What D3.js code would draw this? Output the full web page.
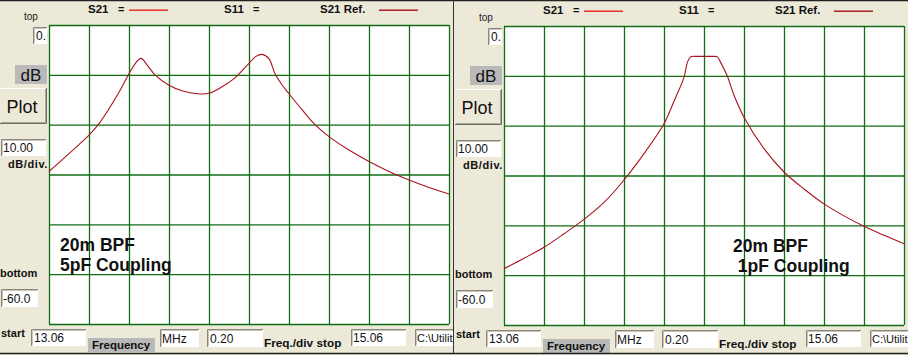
<!DOCTYPE html>
<html lang="en">
<head>
  <meta charset="UTF-8" />
  <title>20m BPF - S21</title>
  <script src="https://d3js.org/d3.v7.min.js"></script>
  <style>
    html, body {
      margin: 0;
      padding: 0;
      background: #ece9d8;
      overflow: hidden;
    }
    svg {
      display: block;
      font-family: "Liberation Sans", Arial, sans-serif;
    }
    .lbl {
      font-weight: bold;
      font-size: 11px;
      fill: #111;
    }
    .inp {
      font-size: 12px;
      fill: #111;
    }
  </style>
</head>
<body>
  <div id="chart"></div>
  <script>
    // sweep settings (same for both panels)
    const freqStart = 13.06;
    const freqStop = 15.06;
    const freqDiv = 0.20;
    const dbTop = 0;
    const dbBottom = -60;
    const dbDiv = 10;

    // left panel: 5pF coupling (MHz, dB)
    const leftFreq = [13.06, 13.11, 13.16, 13.21, 13.26, 13.31, 13.36, 13.41, 13.46, 13.49, 13.52,
      13.55, 13.59, 13.66, 13.725, 13.805, 13.86, 13.925, 13.99, 14.02, 14.06, 14.095, 14.125,
      14.16, 14.19, 14.225, 14.26, 14.325, 14.39, 14.46, 14.56, 14.66, 14.76, 14.86, 14.96, 15.06];
    const leftDb = [-29.4, -27.6, -25.8, -24.0, -22.1, -19.8, -16.8, -13.5, -9.8, -7.8, -6.7,
      -8.0, -10.0, -12.1, -13.2, -13.8, -13.7, -12.4, -10.6, -9.4, -7.7, -6.3, -5.9,
      -6.8, -9.8, -12.0, -13.8, -17.0, -20.0, -22.4, -25.1, -27.4, -29.4, -31.1, -32.6, -33.9];

    // right panel: 1pF coupling (MHz, dB)
    const rightFreq = [13.06, 13.16, 13.26, 13.36, 13.46, 13.56, 13.66, 13.76, 13.86, 13.91,
      13.96, 13.977, 13.993, 14.025, 14.06, 14.10, 14.127, 14.143, 14.177, 14.21, 14.26,
      14.36, 14.46, 14.56, 14.66, 14.76, 14.86, 14.96, 15.06];
    const rightDb = [-48.7, -46.6, -44.4, -41.7, -38.8, -35.4, -30.9, -25.6, -19.6, -15.1,
      -10.3, -7.3, -6.2, -6.1, -6.1, -6.1, -6.2, -7.3, -10.1, -13.9, -18.3,
      -24.6, -29.3, -32.7, -35.7, -38.1, -40.2, -42.0, -43.7];

    const panels = [
      { dx: 0, dy: 0, freq: leftFreq, db: leftDb, note: ["20m BPF", "5pF Coupling"], noteX: 60 },
      { dx: 455, dy: 1, freq: rightFreq, db: rightDb, note: ["20m BPF", " 1pF Coupling"], noteX: 278 }
    ];

    const W = 908, H = 355;
    const plot = { x: 49, y: 25, w: 400, h: 299 };

    const svg = d3.select("#chart").append("svg")
      .attr("width", W)
      .attr("height", H);

    svg.append("rect").attr("width", W).attr("height", H).attr("fill", "#ece9d8");

    // sunken white edit box
    function inputBox(g, x, y, w, h, txt, tx, fs) {
      g.append("rect").attr("x", x).attr("y", y).attr("width", w).attr("height", h).attr("fill", "#fff");
      g.append("path")
        .attr("d", `M${x + 0.5},${y + h}V${y + 0.5}H${x + w}`)
        .attr("fill", "none").attr("stroke", "#8a877c");
      g.append("path")
        .attr("d", `M${x + 1.5},${y + h - 1}V${y + 1.5}H${x + w - 1}`)
        .attr("fill", "none").attr("stroke", "#c8c5b8");
      g.append("text").attr("class", "inp")
        .attr("x", x + (tx || 3)).attr("y", y + h - 4)
        .style("font-size", fs ? fs + "px" : null)
        .text(txt);
    }

    function drawPanel(p, i) {
      const clipId = "clip" + i;
      svg.append("clipPath").attr("id", clipId)
        .append("rect")
        .attr("x", p.dx).attr("y", 0)
        .attr("width", i === 0 ? 453 : W - p.dx).attr("height", H);

      const g = svg.append("g")
        .attr("clip-path", `url(#${clipId})`)
        .append("g")
        .attr("transform", `translate(${p.dx},${p.dy})`);

      // legend header
      g.append("text").attr("class", "lbl").attr("x", 88).attr("y", 13).style("font-size", "11.5px").text("S21");
      g.append("text").attr("class", "lbl").attr("x", 118).attr("y", 13).text("=");
      g.append("rect").attr("x", 129).attr("y", 9.5).attr("width", 39).attr("height", 1.4).attr("fill", "#e8231f");
      g.append("text").attr("class", "lbl").attr("x", 224).attr("y", 13).style("font-size", "11.5px").text("S11");
      g.append("text").attr("class", "lbl").attr("x", 253).attr("y", 13).text("=");
      g.append("text").attr("class", "lbl").attr("x", 320).attr("y", 13).style("font-size", "11.5px").text("S21 Ref.");
      g.append("rect").attr("x", 379).attr("y", 9.5).attr("width", 39).attr("height", 1.4).attr("fill", "#a31515");

      // left controls
      g.append("text").attr("x", 24).attr("y", 20).style("font-size", "10px").attr("fill", "#222").text("top");
      inputBox(g, 33, 27, 14, 17, "0.", 3);

      g.append("rect").attr("x", 15).attr("y", 65).attr("width", 32).attr("height", 19).attr("fill", "#b9b9b9");
      g.append("text").attr("x", 31).attr("y", 81).attr("text-anchor", "middle")
        .style("font-size", "17px").attr("fill", "#111").text("dB");

      g.append("rect").attr("x", 0).attr("y", 88).attr("width", 47).attr("height", 36).attr("fill", "#ece9d8");
      g.append("path").attr("d", "M0,123.5H46.5V88").attr("fill", "none").attr("stroke", "#6f6d64");
      g.append("path").attr("d", "M1,122.5H45.5V89").attr("fill", "none").attr("stroke", "#a9a699");
      g.append("path").attr("d", "M0,88.5H46").attr("fill", "none").attr("stroke", "#fff");
      g.append("text").attr("x", 22).attr("y", 113).attr("text-anchor", "middle")
        .style("font-size", "18px").attr("fill", "#111").text("Plot");

      inputBox(g, 1, 139, 45, 17, "10.00", 2);
      g.append("text").attr("class", "lbl").attr("x", 48).attr("y", 168).attr("text-anchor", "end")
        .style("letter-spacing", "0.6px").text("dB/div.");

      g.append("text").attr("class", "lbl").attr("x", 0).attr("y", 277).text("bottom");
      inputBox(g, 1, 289, 37, 18, "-60.0", 2);

      // bottom controls
      g.append("text").attr("class", "lbl").attr("x", 1).attr("y", 337).text("start");
      inputBox(g, 31, 329, 55, 17, "13.06", 3);
      g.append("rect").attr("x", 88).attr("y", 338).attr("width", 67).attr("height", 14).attr("fill", "#b9b9b9");
      g.append("text").attr("class", "lbl").attr("x", 92).attr("y", 349).style("font-size", "11.5px").text("Frequency");
      inputBox(g, 160, 329, 39, 18, "MHz", 2);
      inputBox(g, 207, 329, 56, 18, "0.20", 3);
      g.append("text").attr("class", "lbl").attr("x", 264).attr("y", 347).style("font-size", "11.8px").text("Freq./div stop");
      inputBox(g, 351, 329, 55, 17, "15.06", 2);
      inputBox(g, 415, 329, 60, 17, "C:\\Utilit", 2, 11);

      // plot area
      const x = d3.scaleLinear().domain([freqStart, freqStop]).range([plot.x, plot.x + plot.w]);
      const y = d3.scaleLinear().domain([dbBottom, dbTop]).range([plot.y + plot.h, plot.y]);

      g.append("rect")
        .attr("x", plot.x).attr("y", plot.y)
        .attr("width", plot.w).attr("height", plot.h)
        .attr("fill", "#fff");

      const xTicks = d3.range(0, 11).map(k => freqStart + k * freqDiv);
      const yTicks = d3.range(dbBottom, dbTop + 1, dbDiv);

      const gridX = g.append("g")
        .attr("transform", `translate(0,${plot.y + plot.h})`)
        .call(d3.axisBottom(x).tickValues(xTicks).tickSize(-plot.h).tickFormat("").tickSizeOuter(0));
      const gridY = g.append("g")
        .attr("transform", `translate(${plot.x},0)`)
        .call(d3.axisLeft(y).tickValues(yTicks).tickSize(-plot.w).tickFormat("").tickSizeOuter(0));
      [gridX, gridY].forEach(a => {
        a.select(".domain").remove();
        a.selectAll("line").attr("stroke", "#0f6e14").attr("stroke-width", 1.3);
      });

      const pts = p.freq.map((f, k) => ({ f: f, db: p.db[k] }));
      const line = d3.line()
        .x(d => x(d.f))
        .y(d => y(d.db))
        .curve(d3.curveCatmullRom.alpha(0.5));

      g.append("path")
        .datum(pts)
        .attr("fill", "none")
        .attr("stroke", "#a8141c")
        .attr("stroke-width", 1.1)
        .attr("d", line);

      g.append("text")
        .attr("x", p.noteX).attr("y", 251)
        .style("font-size", "17.5px").style("font-weight", "bold").attr("fill", "#111")
        .selectAll("tspan")
        .data(p.note)
        .enter()
        .append("tspan")
        .attr("x", p.noteX)
        .attr("dy", (d, k) => k === 0 ? 0 : 20)
        .style("white-space", "pre")
        .text(d => d);
    }

    panels.forEach(drawPanel);

    // window frame lines
    svg.append("line").attr("x1", 0).attr("x2", W).attr("y1", 0.5).attr("y2", 0.5).attr("stroke", "#222").attr("stroke-width", 1.5);
    svg.append("line").attr("x1", 0).attr("x2", W).attr("y1", 353.5).attr("y2", 353.5).attr("stroke", "#222").attr("stroke-width", 1.5);
    svg.append("line").attr("x1", 453.5).attr("x2", 453.5).attr("y1", 0).attr("y2", 353).attr("stroke", "#333").attr("stroke-width", 1);
  </script>
</body>
</html>
